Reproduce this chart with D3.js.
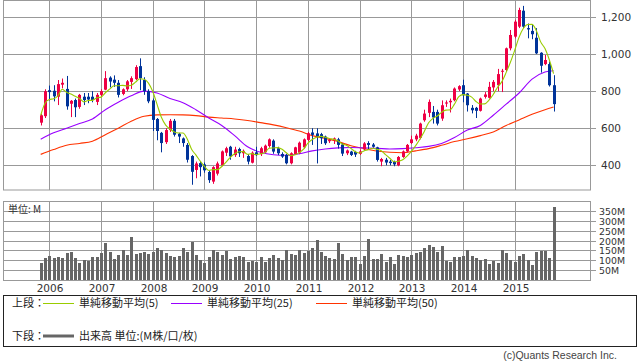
<!DOCTYPE html>
<html><head><meta charset="utf-8">
<script src="https://cdn.jsdelivr.net/npm/d3@7"></script>
<style>body{margin:0;background:#fff}svg{display:block}</style>
</head><body>
<svg id="c" width="638" height="362"></svg>
<script>
// ---- categories: monthly candles Nov 2005 .. Oct 2015
const months = d3.timeMonth.range(new Date(2005,10,1), new Date(2015,10,1));
const yearLabels = ["2006","2007","2008","2009","2010","2011","2012","2013","2014","2015"];
const priceTicks = [400,600,800,1000,1200];
const volTicks = [50,100,150,200,250,300,350];

const open = [630,665,805,802,770,835,812,732,752,715,
770,770,770,742,780,808,873,862,845,785,
810,850,865,935,860,800,750,650,575,525,
590,640,570,545,510,450,375,412,405,364,
312,355,400,468,500,455,488,465,450,414,
470,460,470,504,533,492,461,456,411,461,
468,497,537,577,572,568,555,530,537,540,
512,465,474,472,462,486,520,512,497,420,
430,420,418,400,445,475,520,540,548,643,
683,688,688,652,733,740,751,809,832,787,
710,710,694,769,764,820,832,905,914,1031,
1094,1148,1234,1140,1125,1088,1007,946,946,832];
const high = [678,810,830,832,860,868,882,752,760,785,
790,790,800,790,810,908,880,885,860,815,
860,880,940,977,875,810,760,655,580,600,
650,650,575,550,520,455,420,420,415,372,
395,420,480,500,505,500,495,485,460,475,
500,500,512,545,540,500,470,462,470,500,
528,545,580,600,600,575,560,545,550,548,
520,485,478,478,485,525,530,520,500,440,
440,430,425,450,480,515,560,570,630,700,
755,720,700,750,750,760,820,832,862,790,
725,715,765,795,850,860,920,920,1035,1130,
1185,1250,1260,1165,1160,1140,1010,995,960,886];
const low = [615,655,750,745,725,815,700,660,660,705,
725,735,740,725,770,805,820,823,766,778,
800,812,860,805,780,735,585,535,470,515,
580,555,520,500,415,295,330,340,360,305,
300,345,395,450,430,445,445,440,405,410,
450,450,465,495,462,455,440,405,405,455,
460,490,530,510,410,515,510,520,515,490,
450,455,450,445,455,480,485,495,420,395,
400,400,395,395,440,470,515,530,540,635,
660,625,615,640,715,685,745,800,740,690,
680,655,690,760,760,800,800,795,905,1020,
1085,1140,1140,1085,1080,1000,900,940,825,690];
const close = [670,800,795,772,838,845,718,748,713,780,
752,755,752,780,800,870,852,845,780,810,
853,870,930,870,800,745,645,585,520,590,
640,565,555,520,430,365,410,390,373,320,
390,410,475,492,448,485,465,478,420,468,
455,492,506,540,474,465,447,411,465,497,
522,540,573,564,557,546,519,536,545,510,
463,480,456,458,475,518,510,500,429,434,
415,412,405,445,475,510,540,560,625,679,
742,658,625,724,739,748,814,827,778,724,
697,694,760,782,823,850,892,910,1031,1103,
1175,1238,1148,1133,1107,1004,937,968,832,730];
const volume = [84,109,121,113,116,111,135,141,111,86,
101,98,116,116,135,187,143,104,126,152,
126,217,131,135,143,133,143,162,152,135,
121,116,121,162,141,192,126,99,86,116,
152,141,126,146,104,116,121,116,91,96,
91,116,91,111,126,111,101,152,131,126,
152,136,146,162,202,143,121,111,106,187,
131,101,116,116,81,121,207,106,106,131,
91,116,81,126,121,116,126,137,140,160,
175,168,142,170,96,92,118,118,123,150,
120,113,100,107,82,97,88,150,137,102,
92,123,133,102,78,143,147,147,113,370];
// moving averages (at these candle positions)
const maIdx = [0,3,6,9,12,15,18,21,24,27,30,33,36,39,42,45,48,51,54,57,60,63,66,69,72,75,78,81,84,87,90,93,96,99,102,105,108,111,114,117,119];
const ma25 = [540,575,600,625,650,700,740,775,800,790,760,738,700,655,615,560,500,470,457,454,462,478,488,494,496,494,492,488,490,495,502,518,550,590,615,670,730,790,865,903,910];
const ma50 = [459,485,508,518,530,565,600,638,665,672,673,672,668,660,655,650,642,630,618,603,585,560,545,528,505,490,477,470,468,478,490,508,528,543,560,580,615,645,675,700,715];

const legendItems = [
  {label:"単純移動平均(5)", color:"#99cc00"},
  {label:"単純移動平均(25)", color:"#9900ff"},
  {label:"単純移動平均(50)", color:"#ff3300"}
];

// ---- layout
const svg = d3.select("#c");
const L = 3, R = 590, PT = 0.5, PB = 190, VT = 201, VB = 280;
const x = d3.scaleBand().domain(d3.range(months.length)).range([38.55, 555.75]).padding(0);
const cx = i => Math.round(x(i) + x.step()/2);
const y = d3.scaleLinear().domain([400,1200]).range([165.3,17]);
const yv = d3.scaleLinear().domain([0,400]).range([VB,VT]);
const GRID = "#999";
const numFont = "DejaVu Sans, sans-serif";
const jpFont = "'Noto Sans CJK JP', sans-serif";

svg.append("rect").attr("width",638).attr("height",362).attr("fill","#fff");

const janIdx = months.map((m,i)=>m.getMonth()===0?i:-1).filter(i=>i>=0);

// price panel grid
const gP = svg.append("g");
gP.selectAll("line.h").data(priceTicks).join("line")
  .attr("x1",L).attr("x2",R+6).attr("y1",d=>Math.round(y(d))+0.5).attr("y2",d=>Math.round(y(d))+0.5)
  .attr("stroke",GRID);
gP.selectAll("line.v").data(janIdx).join("line")
  .attr("x1",d=>cx(d)+0.5).attr("x2",d=>cx(d)+0.5).attr("y1",PT).attr("y2",PB)
  .attr("stroke",GRID);
gP.append("rect").attr("x",L+0.5).attr("y",PT).attr("width",R-L).attr("height",PB-PT)
  .attr("fill","none").attr("stroke",GRID);
gP.selectAll("text").data(priceTicks).join("text")
  .attr("x",601).attr("y",d=>Math.round(y(d))+4)
  .attr("font-family",numFont).attr("font-size",10.5).attr("fill","#333")
  .text(d=>d3.format(",")(d));

// volume panel grid
const gV = svg.append("g");
gV.selectAll("line.h").data(volTicks).join("line")
  .attr("x1",L).attr("x2",R+6).attr("y1",d=>Math.round(yv(d))+0.5).attr("y2",d=>Math.round(yv(d))+0.5)
  .attr("stroke",GRID);
gV.selectAll("line.v").data(janIdx).join("line")
  .attr("x1",d=>cx(d)+0.5).attr("x2",d=>cx(d)+0.5).attr("y1",VT).attr("y2",VB)
  .attr("stroke",GRID);
gV.append("rect").attr("x",L+0.5).attr("y",VT+0.5).attr("width",R-L).attr("height",VB-VT)
  .attr("fill","none").attr("stroke",GRID);
gV.selectAll("text").data(volTicks).join("text")
  .attr("x",599).attr("y",d=>Math.round(yv(d))+3.5)
  .attr("font-family",numFont).attr("font-size",8.5).attr("fill","#333")
  .attr("textLength",d=>d>=100?26:20).attr("lengthAdjust","spacingAndGlyphs")
  .text(d=>d+"M");
svg.append("text").attr("x",8).attr("y",213).attr("font-family",jpFont).attr("font-size",10).attr("fill","#333").text("単位: M");

// year labels
svg.selectAll("text.yr").data(janIdx).join("text").attr("class","yr")
  .attr("x",d=>cx(d)+1).attr("y",292).attr("text-anchor","middle")
  .attr("font-family",numFont).attr("font-size",10.5).attr("fill","#333")
  .text((d,k)=>yearLabels[k]);

// volume bars
svg.append("g").selectAll("rect").data(volume).join("rect")
  .attr("x",(d,i)=>cx(i)-1).attr("width",3)
  .attr("y",d=>Math.round(yv(d))).attr("height",d=>VB-Math.round(yv(d)))
  .attr("fill","#666");

// moving averages
const clip = svg.append("clipPath").attr("id","pc").append("rect").attr("x",L).attr("y",0).attr("width",R-L).attr("height",PB);
const ma5 = close.map((c,i)=>{const s=close.slice(Math.max(0,i-4),i+1);return d3.mean(s);});
const lineF = d3.line().x(d=>x(d[0])+x.step()/2).y(d=>y(d[1])).curve(d3.curveMonotoneX);
const gM = svg.append("g").attr("clip-path","url(#pc)");
gM.append("path").datum(maIdx.map((k,j)=>[k,ma50[j]])).attr("d",lineF).attr("fill","none").attr("stroke","#ff3300").attr("stroke-width",1.1);
gM.append("path").datum(maIdx.map((k,j)=>[k,ma25[j]])).attr("d",lineF).attr("fill","none").attr("stroke","#9900ff").attr("stroke-width",1.1);

// candles
const gC = svg.append("g");
const idx = d3.range(months.length);
gC.selectAll("line").data(idx).join("line")
  .attr("x1",i=>cx(i)+0.5).attr("x2",i=>cx(i)+0.5)
  .attr("y1",i=>y(high[i])).attr("y2",i=>y(low[i]))
  .attr("stroke",i=>close[i]>=open[i]?"#ee0044":"#003399");
gC.selectAll("rect").data(idx).join("rect")
  .attr("x",i=>cx(i)-1).attr("width",3)
  .attr("y",i=>y(Math.max(open[i],close[i])))
  .attr("height",i=>Math.max(1,Math.abs(y(open[i])-y(close[i]))))
  .attr("fill",i=>close[i]>=open[i]?"#ee0044":"#003399");

const gM2 = svg.append("g").attr("clip-path","url(#pc)");
gM2.append("path").datum(ma5.map((v,i)=>[i,v])).attr("d",lineF).attr("fill","none").attr("stroke","#99cc00").attr("stroke-width",1.1);

// legend
const gL = svg.append("g");
gL.append("rect").attr("x",3.5).attr("y",295.5).attr("width",633).attr("height",51).attr("fill","#fff").attr("stroke","#222");
gL.append("text").attr("x",12).attr("y",307).attr("font-family",jpFont).attr("font-size",11).attr("fill","#222").text("上段：");
const lx = [43,171,316];
legendItems.forEach((it,k)=>{
  gL.append("line").attr("x1",lx[k]).attr("x2",lx[k]+31).attr("y1",303.5).attr("y2",303.5).attr("stroke",it.color).attr("stroke-width",1);
  gL.append("text").attr("x",lx[k]+36).attr("y",307).attr("font-family",jpFont).attr("font-size",11).attr("fill","#222").text(it.label);
});
gL.append("text").attr("x",12).attr("y",340).attr("font-family",jpFont).attr("font-size",11).attr("fill","#222").text("下段：");
gL.append("line").attr("x1",43).attr("x2",74).attr("y1",336).attr("y2",336).attr("stroke","#666").attr("stroke-width",3);
gL.append("text").attr("x",79).attr("y",340).attr("font-family",jpFont).attr("font-size",11).attr("fill","#222").text("出来高 単位:(M株/口/枚)");

svg.append("text").attr("x",617).attr("y",359).attr("text-anchor","end").attr("font-family","'Liberation Sans', sans-serif").attr("font-size",10.5).attr("fill","#444").text("(c)Quants Research Inc.");
</script>
</body></html>
